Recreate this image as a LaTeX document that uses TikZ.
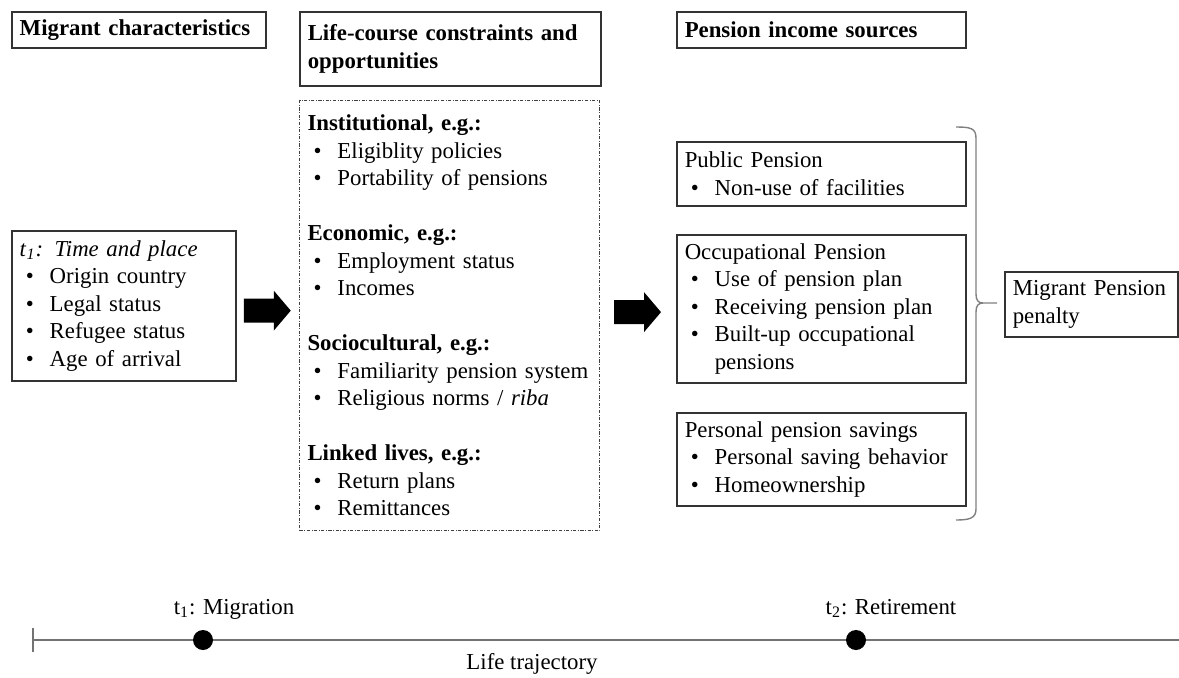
\documentclass[tikz,border=0pt]{standalone}
\usepackage{fontspec}
\setmainfont{Liberation Serif}
\usetikzlibrary{calc}
\newcommand\bl[1]{\makebox[15pt][l]{\hspace{3pt}\textbullet}#1}
\newcommand\hng[1]{\makebox[15pt]{}#1}
\begin{document}
\begin{tikzpicture}[x=0.5pt,y=-0.5pt,
  txt/.style={font=\fontsize{11.4}{13.75}\selectfont},
  box/.style={txt, draw=black!80, line width=0.75pt, anchor=north west, inner xsep=4pt, inner ysep=0pt, align=left},
  ttl/.style={box, font=\fontsize{11.4}{13.75}\selectfont\bfseries},
  dbox/.style={box, draw=black!75, line width=0.5pt, dash pattern=on 1.6pt off 0.8pt on 0.4pt off 0.8pt},
  blockarrow/.style={fill=black},
  brace/.style={draw=black!50, line width=0.7pt},
  tline/.style={draw=black!55, line width=0.75pt},
  dot/.style={circle, fill=black, inner sep=0pt, minimum size=10pt}]
\useasboundingbox (0,0) rectangle (1179,677);

% titles
\node[ttl, minimum width=127pt, minimum height=18pt, text width=119pt] (t1) at (11,11) {Migrant characteristics};
\node[ttl, minimum width=150.5pt, minimum height=37pt, text width=142.5pt] (t2) at (299,11) {Life-course constraints and\\opportunities};
\node[ttl, minimum width=144.5pt, minimum height=18pt, text width=136.5pt] (t3) at (676,11) {Pension income sources};

% migrant characteristics
\node[box, minimum width=112pt, minimum height=75pt, text width=104pt] (mig) at (11,230)
 {\textit{t}\textsubscript{\textit{1}}\textit{: Time and place}\\
  \bl{Origin country}\\
  \bl{Legal status}\\
  \bl{Refugee status}\\
  \bl{Age of arrival}};

% life-course
\node[dbox, minimum width=150pt, minimum height=215pt, text width=142pt] (life) at (299,100)
 {\textbf{Institutional, e.g.:}\\
  \bl{Eligiblity policies}\\
  \bl{Portability of pensions}\\[13.75pt]
  \textbf{Economic, e.g.:}\\
  \bl{Employment status}\\
  \bl{Incomes}\\[13.75pt]
  \textbf{Sociocultural, e.g.:}\\
  \bl{Familiarity pension system}\\
  \bl{Religious norms / \textit{riba}}\\[13.75pt]
  \textbf{Linked lives, e.g.:}\\
  \bl{Return plans}\\
  \bl{Remittances}};

% pension sources
\node[box, minimum width=144.5pt, minimum height=32pt, text width=136.5pt] (pub) at (676,141)
 {Public Pension\\
  \bl{Non-use of facilities}};
\node[box, minimum width=144.5pt, minimum height=74pt, text width=136.5pt] (occ) at (676,234)
 {Occupational Pension\\
  \bl{Use of pension plan}\\
  \bl{Receiving pension plan}\\
  \bl{Built-up occupational}\\
  \hng{pensions}};
\node[box, minimum width=144.5pt, minimum height=46.5pt, text width=136.5pt] (per) at (676,412)
 {Personal pension savings\\
  \bl{Personal saving behavior}\\
  \bl{Homeownership}};

\node[box, minimum width=86.5pt, minimum height=32.5pt, text width=78.5pt] (mpp) at (1004,271)
 {Migrant Pension\\penalty};

% block arrows
\coordinate (a1) at ($(mig.east)!0.5!(life.west)$);
\coordinate (a2) at ($(life.east)!0.5!(occ.west)$);
\foreach \a in {a1,a2}{
  \fill[blockarrow] ($(\a)+(-24,0)$) ++(0,-12) -- ++(30,0) -- ++(0,-8) -- ++(17,20) -- ++(-17,20) -- ++(0,-8) -- ++(-30,0) -- cycle;
}

% brace
\coordinate (btop) at (956,127);
\coordinate (btip) at (997,303);
\coordinate (bbot) at (956,520);
\draw[brace] (btop) .. controls (970,127) and (976,128) .. (976,138) -- (976,294)
  .. controls (976,300) and (978,303) .. (983,303) -- (btip);
\draw[brace] (983,303) .. controls (978,303) and (976,306) .. (976,312) -- (976,509)
  .. controls (976,518) and (970,520) .. (bbot);

% timeline
\coordinate (ts) at (33,640);
\coordinate (te) at (1179,640);
\draw[tline] (ts) -- (te);
\draw[tline] ($(ts)+(0,-12)$) -- ($(ts)+(0,12)$);
\node[dot] (d1) at (203,640) {};
\node[dot] (d2) at (856,640) {};
\node[txt, anchor=base] (l1) at (234,614) {t\textsubscript{1}: Migration};
\node[txt, anchor=base] (l2) at (891,614) {t\textsubscript{2}: Retirement};
\node[txt, anchor=base] (l3) at (532,669) {Life trajectory};
\end{tikzpicture}
\end{document}
